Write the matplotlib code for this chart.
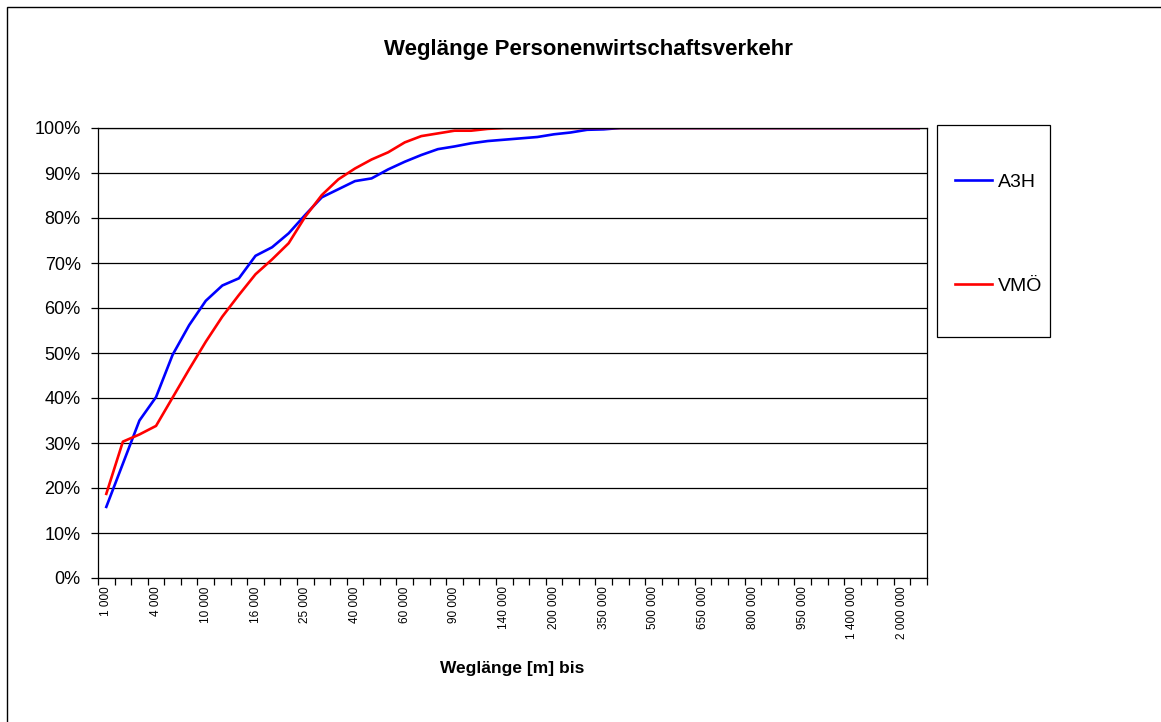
import matplotlib
matplotlib.use("Agg")
import matplotlib.pyplot as plt
from matplotlib.patches import Rectangle
from matplotlib.ticker import FuncFormatter

plt.rcParams["font.family"] = ["Liberation Sans", "DejaVu Sans"]

# Weglänge-Klassen (obere Grenze in m)
categories = [
    "1 000", "2 000", "3 000", "4 000", "6 000", "8 000", "10 000", "12 000",
    "14 000", "16 000", "19 000", "22 000", "25 000", "30 000", "35 000",
    "40 000", "45 000", "50 000", "60 000", "70 000", "80 000", "90 000",
    "100 000", "120 000", "140 000", "160 000", "180 000", "200 000",
    "250 000", "300 000", "350 000", "400 000", "450 000", "500 000",
    "550 000", "600 000", "650 000", "700 000", "750 000", "800 000",
    "850 000", "900 000", "950 000", "1 000 000", "1 200 000", "1 400 000",
    "1 600 000", "1 800 000", "2 000 000", "2 500 000",
]

# kumulierte Anteile in %
a3h = [
    15.8, 25.4, 35.0, 40.2, 49.6, 56.2, 61.6, 65.0, 66.6, 71.6, 73.5, 76.6,
    80.7, 84.6, 86.4, 88.2, 88.8, 90.8, 92.5, 94.0, 95.3, 95.9, 96.6, 97.1,
    97.4, 97.7, 98.0, 98.6, 99.0, 99.6, 99.7, 100, 100, 100, 100, 100, 100,
    100, 100, 100, 100, 100, 100, 100, 100, 100, 100, 100, 100, 100,
]
vmoe = [
    18.7, 30.3, 31.9, 33.8, 40.1, 46.4, 52.5, 58.1, 62.9, 67.5, 70.8, 74.4,
    80.3, 85.1, 88.6, 91.0, 93.0, 94.6, 96.8, 98.2, 98.8, 99.4, 99.4, 99.8,
    100, 100, 100, 100, 100, 100, 100, 100, 100, 100, 100, 100, 100, 100,
    100, 100, 100, 100, 100, 100, 100, 100, 100, 100, 100, 100,
]

W, H = 1161, 722
fig = plt.figure(figsize=(W / 100, H / 100), dpi=100)
ax = fig.add_axes([98 / W, (H - 578) / H, 829 / W, 450 / H])

x = range(len(categories))
ax.plot(x, a3h, color="#0000ff", lw=1.9, label="A3H")
ax.plot(x, vmoe, color="#ff0000", lw=1.9, label="VMÖ")

ax.set_xlim(-0.5, len(categories) - 0.5)
ax.set_ylim(0, 100)
ax.set_yticks(range(0, 101, 10))
ax.yaxis.set_major_formatter(FuncFormatter(lambda v, p: f"{v:.0f}%"))
ax.yaxis.grid(True, color="black", lw=0.9)
ax.set_axisbelow(True)
ax.tick_params(axis="y", labelsize=13, length=5, width=0.9, direction="out",
               pad=7.5)

ax.set_xticks(list(x)[::3])
ax.set_xticklabels(categories[::3], rotation=90, fontsize=8.5)
ax.set_xticks([i - 0.5 for i in range(len(categories) + 1)], minor=True)
ax.tick_params(axis="x", which="major", length=0, pad=6)
ax.tick_params(axis="x", which="minor", length=5, width=0.9, direction="out")

for s in ax.spines.values():
    s.set_linewidth(0.9)

ax.set_xlabel("Weglänge [m] bis", fontsize=12.5, fontweight="bold", labelpad=16)
fig.text(588 / W, 1 - 49 / H, "Weglänge Personenwirtschaftsverkehr",
         fontsize=16, fontweight="bold", ha="center", va="center")

# Legende mit eigenem Rahmen
fig.patches.append(Rectangle((937 / W, 1 - 337 / H), 113 / W, 212 / H,
                             transform=fig.transFigure, fill=False,
                             edgecolor="black", lw=0.9))
fig.legend(loc="upper left", bbox_to_anchor=(955 / W, 1 - 173 / H),
           frameon=False, fontsize=14, labelspacing=4.45, handlelength=1.9,
           handletextpad=0.3, borderpad=0, borderaxespad=0)

# äußerer Rahmen
fig.patches.append(Rectangle((7 / W, -0.01), 1.02, 1 - 7 / H + 0.01,
                             transform=fig.transFigure, fill=False,
                             edgecolor="black", lw=1.0))

fig.savefig("out.png", dpi=100)
